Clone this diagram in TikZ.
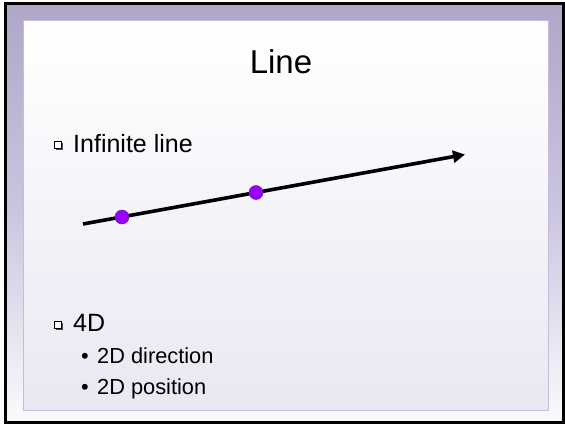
\documentclass[tikz,border=0pt]{standalone}
\usepackage{fontspec}
\setmainfont{Liberation Sans}
\usetikzlibrary{arrows.meta}
\definecolor{bandtop}{HTML}{B0A6C8}
\definecolor{bandmid}{HTML}{CCC5DF}
\definecolor{bandbot}{HTML}{FAFAFC}
\definecolor{panelbot}{HTML}{EAE7F2}
\definecolor{panelline}{HTML}{C4BCDC}
\definecolor{dotfill}{HTML}{9900FF}
\definecolor{dotline}{HTML}{5A2A80}
\tikzset{
  dotnode/.style={circle, fill=dotfill, draw=dotline, line width=0.5pt, inner sep=0pt, minimum size=14pt},
  bulletbox/.style={draw=black, fill=white, line width=0.8pt, minimum size=7pt, inner sep=0pt},
  bulletshadow/.style={fill=black!70, minimum size=7pt, inner sep=0pt},
  maintext/.style={anchor=base west, inner sep=0pt, font=\fontsize{25}{28}\selectfont},
  subtext/.style={anchor=base west, inner sep=0pt, font=\fontsize{21.8}{25}\selectfont},
  titletext/.style={anchor=base, inner sep=0pt, font=\fontsize{33}{38}\selectfont},
  lineconn/.style={line width=3.6pt, -{Triangle[length=12pt,width=12pt]}}
}
\begin{document}
\begin{tikzpicture}[x=1pt,y=-1pt]
\useasboundingbox (0,0) rectangle (565,424);
\fill[white] (0,0) rectangle (565,424);
% outer band
\shade[top color=bandtop, bottom color=bandbot, middle color=bandmid] (5,4) rectangle (563,421);
% inner panel
\shade[top color=white, bottom color=panelbot, draw=panelline, line width=1pt] (23,20) rectangle (548,410);
% black frame
\draw[black, line width=3pt] (5.5,3.5) rectangle (563.5,422.5);
% title
\node[titletext] (title) at (281,73) {Line};
% bullets
\node[bulletshadow] (b1s) at (59,146) {};
\node[bulletbox] (b1) at (58,145) {};
\node[maintext] (t1) at (73,152) {Infinite line};
\node[bulletshadow] (b2s) at (59,326) {};
\node[bulletbox] (b2) at (58,325) {};
\node[maintext] (t2) at (73,331) {4D};
\node[subtext] (s1b) at (81,363) {•};
\node[subtext] (s1) at (97,363) {2D direction};
\node[subtext] (s2b) at (81,394) {•};
\node[subtext] (s2) at (97,394) {2D position};
% line
\coordinate (ls) at (83,224);
\coordinate (le) at (465,154.5);
\draw[lineconn] (ls) -- (le);
\node[dotnode] (p1) at (122,217) {};
\node[dotnode] (p2) at (256,192.5) {};
\end{tikzpicture}
\end{document}
